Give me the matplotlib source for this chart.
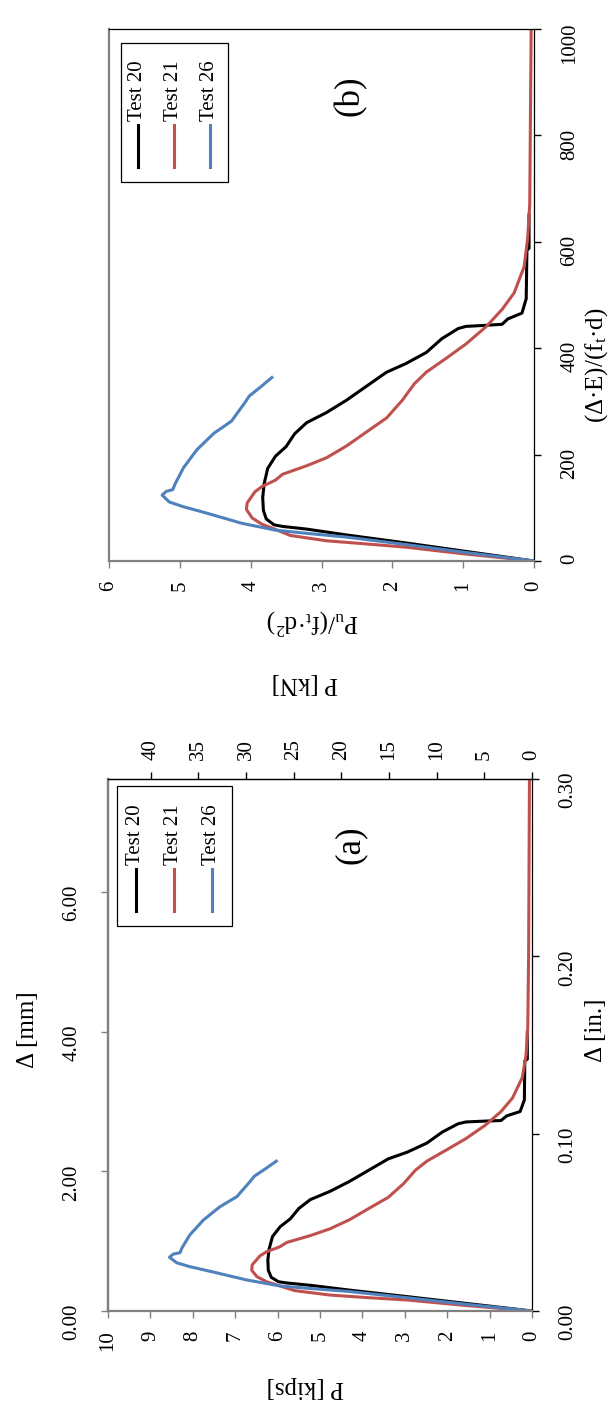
import matplotlib
matplotlib.use("Agg")
import matplotlib.pyplot as plt
from matplotlib.lines import Line2D
from matplotlib.patches import Rectangle
from matplotlib.ticker import FormatStrFormatter

plt.rcParams.update({
    "font.family": ["Liberation Serif", "DejaVu Serif"],
    "mathtext.fontset": "custom",
    "mathtext.rm": "Liberation Serif",
    "mathtext.it": "Liberation Serif:italic",
    "mathtext.default": "regular",
})

W, H = 610, 1406

series_names = ["Test 20", "Test 21", "Test 26"]
series_colors = ["#000000", "#C0504D", "#4F81BD"]

# Panel (a): load P [kips] against slip Δ [in.]
t20_kips = [0, 1.56, 2.94, 4.31, 5.23, 5.78, 5.98, 6.15, 6.22, 6.23, 6.20, 6.12, 5.94,
            5.70, 5.50, 5.23, 4.77, 4.31, 3.85, 3.39, 2.94, 2.48, 2.11, 1.74, 1.56, 1.10,
            0.73, 0.60, 0.28, 0.18, 0.17, 0.11, 0.11]
t20_in = [0, 0.0043, 0.0081, 0.0118, 0.0145, 0.0158, 0.0165, 0.0190, 0.0230, 0.0288,
          0.0350, 0.0420, 0.0475, 0.0520, 0.0578, 0.0628, 0.0674, 0.0730, 0.0794, 0.0858,
          0.0896, 0.0947, 0.1010, 0.1056, 0.1066, 0.1071, 0.1074, 0.1100, 0.1125, 0.1190,
          0.1410, 0.1420, 0.1570]

t21_kips = [0, 1.56, 2.94, 3.85, 4.77, 5.60, 6.02, 6.26, 6.49, 6.61, 6.60, 6.42, 6.26,
            5.94, 5.78, 5.23, 4.77, 4.31, 3.85, 3.39, 3.03, 2.75, 2.48, 2.02, 1.56, 1.10,
            0.73, 0.46, 0.23, 0.14, 0.10, 0.08, 0.07, 0.06]
t21_in = [0, 0.0031, 0.0062, 0.0075, 0.0090, 0.0115, 0.0147, 0.0165, 0.0194, 0.0230,
          0.0260, 0.0310, 0.0334, 0.0363, 0.0387, 0.0425, 0.0463, 0.0514, 0.0578, 0.0641,
          0.0718, 0.0794, 0.0845, 0.0908, 0.0972, 0.1048, 0.1125, 0.1201, 0.1316, 0.1443,
          0.1600, 0.2000, 0.2500, 0.3000]

t26_kips = [0, 1.56, 2.94, 4.31, 5.23, 5.94, 6.73, 7.52, 8.07, 8.38, 8.55, 8.46, 8.30,
            8.26, 8.07, 7.75, 7.36, 6.96, 6.65, 6.55, 6.30, 6.03]
t26_in = [0, 0.0038, 0.0075, 0.0110, 0.0127, 0.0141, 0.0175, 0.0220, 0.0250, 0.0272,
          0.0303, 0.0321, 0.0329, 0.0354, 0.0429, 0.0513, 0.0588, 0.0645, 0.0730, 0.0760,
          0.0800, 0.0845]

# Panel (b): normalised load Pu/(ft·d²) against normalised slip (Δ·E)/(ft·d)
t20_pn = [0, 0.96, 1.81, 2.65, 3.21, 3.55, 3.67, 3.78, 3.82, 3.83, 3.81, 3.76, 3.65,
          3.50, 3.38, 3.21, 2.93, 2.65, 2.36, 2.08, 1.81, 1.52, 1.30, 1.07, 0.96, 0.68,
          0.45, 0.37, 0.17, 0.11, 0.10, 0.07, 0.07]
t20_dn = [0, 18, 34, 49, 60, 65, 68, 79, 95, 119, 145, 174, 197, 215, 239, 260, 279, 302,
          329, 355, 371, 392, 418, 437, 441, 443, 445, 455, 466, 493, 584, 588, 650]

t21_pn = [0, 0.96, 1.81, 2.36, 2.93, 3.44, 3.70, 3.84, 3.98, 4.06, 4.05, 3.94, 3.84,
          3.65, 3.55, 3.21, 2.93, 2.65, 2.36, 2.08, 1.86, 1.69, 1.52, 1.24, 0.96, 0.68,
          0.45, 0.28, 0.14, 0.09, 0.06, 0.05, 0.04]
t21_dn = [0, 13, 26, 32, 38, 48, 62, 69, 81, 97, 109, 130, 140, 152, 163, 179, 194, 216,
          243, 269, 302, 333, 355, 381, 408, 440, 473, 504, 553, 606, 672, 840, 1000]

t26_pn = [0, 0.96, 1.81, 2.65, 3.21, 3.65, 4.13, 4.62, 4.95, 5.15, 5.25, 5.19, 5.10,
          5.07, 4.95, 4.76, 4.52, 4.27, 4.08, 4.02, 3.87, 3.70]
t26_dn = [0, 16, 31, 45, 52, 58, 71, 90, 102, 111, 124, 131, 134, 144, 175, 209, 240,
          263, 298, 310, 326, 345]

kips_ticks = [0, 1, 2, 3, 4, 5, 6, 7, 8, 9, 10]
kn_ticks = [0, 5, 10, 15, 20, 25, 30, 35, 40]
in_ticks = [0.0, 0.10, 0.20, 0.30]
mm_ticks = [0, 2, 4, 6]
pn_ticks = [0, 1, 2, 3, 4, 5, 6]
dn_ticks = [0, 200, 400, 600, 800, 1000]

KN_PER_KIP = 4.448
MM_PER_IN = 25.4
GREY = "#808080"
TICK_FS = 15
TITLE_FS = 18
LINE_W = 2.2

fig = plt.figure(figsize=(W / 100, H / 100), dpi=100)


def frac(x, y):
    """Pixel position (from the top-left corner) to figure fraction."""
    return x / W, 1 - y / H


def add_panel(left, top, right, bottom):
    return fig.add_axes([left / W, 1 - bottom / H, (right - left) / W, (bottom - top) / H])


def style(ax, xticks, yticks, yfmt):
    for side in ("left", "bottom"):
        ax.spines[side].set_color(GREY)
        ax.spines[side].set_linewidth(1.6)
    for side in ("top", "right"):
        ax.spines[side].set_color("black")
        ax.spines[side].set_linewidth(0.9)
    ax.yaxis.tick_right()
    ax.set_xticks(xticks)
    ax.set_yticks(yticks)
    ax.yaxis.set_major_formatter(FormatStrFormatter(yfmt))
    ax.tick_params(axis="x", direction="out", length=5, width=1, color=GREY,
                   labelsize=TICK_FS, labelrotation=90, pad=9)
    ax.tick_params(axis="y", direction="out", length=5, width=1, color="black",
                   labelsize=TICK_FS, labelrotation=90, pad=14)


def rotated_legend(box, handle_xs, handle_span, text_base):
    x0, y0, x1, y1 = box
    fig.add_artist(Rectangle(frac(x0, y1), (x1 - x0) / W, (y1 - y0) / H,
                             transform=fig.transFigure, fill=False,
                             edgecolor="black", lw=0.9))
    for name, color, hx in zip(series_names, series_colors, handle_xs):
        xa, ya = frac(hx, handle_span[0])
        xb, yb = frac(hx, handle_span[1])
        fig.add_artist(Line2D([xa, xb], [ya, yb], transform=fig.transFigure,
                              color=color, lw=LINE_W))
        fig.text(*frac(hx, text_base), name, rotation=90, ha="center", va="bottom",
                 fontsize=TICK_FS)


def title(x, y, s, rot, size=TITLE_FS):
    fig.text(*frac(x, y), s, rotation=rot, ha="center", va="center", fontsize=size)


# ---- panel (a): dimensional results ----
ax_a = add_panel(108, 779, 532, 1311)
for P, D, c in zip([t20_kips, t21_kips, t26_kips], [t20_in, t21_in, t26_in], series_colors):
    ax_a.plot(P, D, color=c, lw=LINE_W, solid_joinstyle="round")
ax_a.set_xlim(10, 0)
ax_a.set_ylim(0, 0.30)
style(ax_a, kips_ticks, in_ticks, "%.2f")

kn_axis = ax_a.secondary_xaxis("top", functions=(lambda p: p * KN_PER_KIP,
                                                 lambda k: k / KN_PER_KIP))
kn_axis.set_xticks(kn_ticks)
kn_axis.tick_params(direction="out", length=5, width=1, color="black",
                    labelsize=TICK_FS, labelrotation=90, pad=9)
kn_axis.spines["top"].set_linewidth(0.9)

mm_axis = ax_a.secondary_yaxis("left", functions=(lambda i: i * MM_PER_IN,
                                                  lambda m: m / MM_PER_IN))
mm_axis.set_yticks(mm_ticks)
mm_axis.yaxis.set_major_formatter(FormatStrFormatter("%.2f"))
mm_axis.tick_params(direction="out", length=5, width=1, color=GREY,
                    labelsize=TICK_FS, labelrotation=90, pad=14)
mm_axis.spines["left"].set_color(GREY)
mm_axis.spines["left"].set_linewidth(1.6)

rotated_legend((117, 786, 232, 926), (136, 174, 212), (869, 911), 865)
title(350, 845, "(a)", 90, 25)
title(305, 1387, "P [kips]", 180)
title(596, 1030, "Δ [in.]", 90)
title(28, 1030, "Δ [mm]", 90)
title(305, 683, "P [kN]", 180)

# ---- panel (b): normalised results ----
ax_b = add_panel(109, 29, 534, 561)
for P, D, c in zip([t20_pn, t21_pn, t26_pn], [t20_dn, t21_dn, t26_dn], series_colors):
    ax_b.plot(P, D, color=c, lw=LINE_W, solid_joinstyle="round")
ax_b.set_xlim(6, 0)
ax_b.set_ylim(0, 1000)
style(ax_b, pn_ticks, dn_ticks, "%d")

rotated_legend((121, 43, 228, 182), (138, 174, 210), (125, 167), 121)
title(350, 96, "(b)", 90, 25)
title(313, 622, r"$P_u/(f_t·d^2)$", 180)
title(597, 365, r"$(Δ·E)/(f_t·d)$", 90)

fig.savefig("out.png", dpi=100)
